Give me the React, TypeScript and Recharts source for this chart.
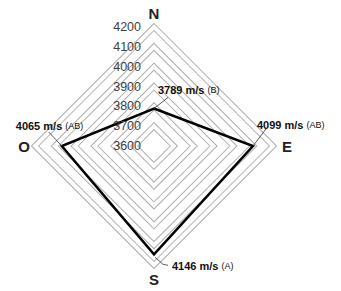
import React from 'react';
import { RadarChart, Radar, PolarGrid, PolarAngleAxis, PolarRadiusAxis } from 'recharts';

const directions = ['N', 'E', 'S', 'O'];
const speeds = [3789, 4099, 4146, 4065];
const groups = ['B', 'AB', 'A', 'AB'];
const radiusTicks = [3600, 3700, 3800, 3900, 4000, 4100, 4200];

const data = directions.map((d, i) => ({ dir: d, v: speeds[i], g: groups[i] }));

const CX = 154;
const CY = 146;
const R = 119;

// label layout: leader polyline (relative to point) and text start / centre
const labelLayout = [
  { leader: [[0, 0], [14, -11]], text: [4, -19] },
  { leader: [[0, 0], [13, -17]], text: [4, -21] },
  { leader: [[1, 3], [9, 10], [14, 11]], text: [18, 12] },
  { leader: [[0, 0], [-13, -14]], text: [-46, -20] },
];

const RadiusTick = (props: any) => {
  const { x, y, payload } = props;
  return (
    <text x={x - 13} y={y} textAnchor="end" dominantBaseline="central" fontSize={12.5}
      fontFamily="Liberation Sans, Arial, sans-serif" fill="#404040">
      {payload.value}
    </text>
  );
};

const AngleTick = (props: any) => {
  const { x, y, payload } = props;
  const dx = x - CX;
  const dy = y - CY;
  const len = Math.sqrt(dx * dx + dy * dy) || 1;
  const extra = dx < -1 ? 3 : 6;
  return (
    <text x={x + (dx / len) * extra} y={y + (dy / len) * extra} textAnchor="middle" dominantBaseline="central"
      fontSize={15} fontWeight="bold" fontFamily="Liberation Sans, Arial, sans-serif" fill="#222">
      {payload.value}
    </text>
  );
};

const ValueLabel = (props: any) => {
  const { cx, cy, index, payload } = props;
  const lay = labelLayout[index];
  const value = payload && payload.value !== undefined ? payload.value : speeds[index];
  const pts = lay.leader.map((p) => `${cx + p[0]},${cy + p[1]}`).join(' ');
  return (
    <g key={`lbl-${index}`}>
      <polyline points={pts} fill="none" stroke="#333" strokeWidth={0.8} />
      <text x={cx + lay.text[0]} y={cy + lay.text[1]} dominantBaseline="central"
        fontFamily="Liberation Sans, Arial, sans-serif" fill="#111">
        <tspan fontSize={11} fontWeight="bold">{`${value} m/s `}</tspan>
        <tspan fontSize={9}>{`(${groups[index]})`}</tspan>
      </text>
    </g>
  );
};

export default function App() {
  return (
    <div style={{ position: 'absolute', left: 0, top: 0, background: '#fff' }}>
      <RadarChart width={341} height={291} data={data} cx={CX} cy={CY} outerRadius={R}
        margin={{ top: 0, right: 0, bottom: 0, left: 0 }}>
        <PolarGrid gridType="polygon" radialLines={false} stroke="#ababab" strokeWidth={6} />
        <PolarGrid gridType="polygon" radialLines={false} stroke="#ffffff" strokeWidth={4} />
        <PolarAngleAxis dataKey="dir" tick={AngleTick} tickLine={false} axisLine={false} />
        <PolarRadiusAxis angle={90} domain={[radiusTicks[0], radiusTicks[radiusTicks.length - 1]]}
          ticks={radiusTicks as any} tickCount={radiusTicks.length} axisLine={false} tickLine={false}
          tick={RadiusTick} />
        <Radar dataKey="v" stroke="#000" strokeWidth={2.5} fill="none" fillOpacity={0}
          dot={ValueLabel} isAnimationActive={false} />
      </RadarChart>
    </div>
  );
}
